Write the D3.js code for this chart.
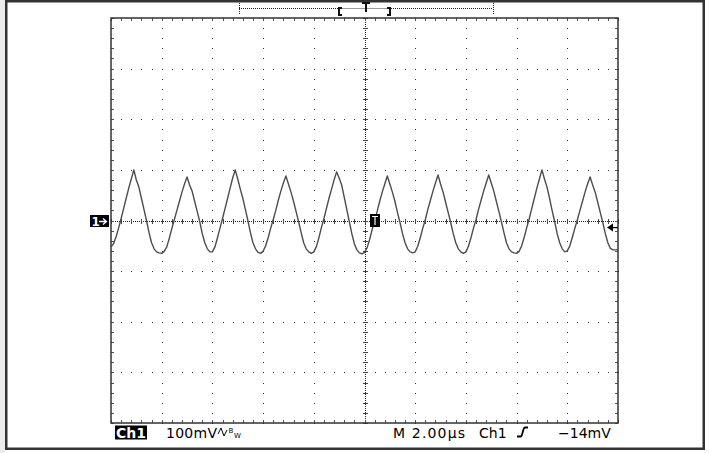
<!DOCTYPE html>
<html>
<head>
<meta charset="utf-8">
<script src="https://cdn.jsdelivr.net/npm/d3@7"></script>
<style>
  html, body { margin: 0; padding: 0; background: #fff; }
  svg { display: block; }
  text { font-family: "DejaVu Sans", sans-serif; }
</style>
</head>
<body>
<svg id="scope" width="709" height="453"></svg>
<script>
// 10 div x 2.00 us, 8 div x 100 mV
const timeDomain = [0, 20];
const voltDomain = [-400, 400];
const sampleStep = 0.1; // us per sample

// Ch1 trace, mV, one sample every 0.1 us
const ch1mV = [
    -52, -46, -32, -15, 4, 24, 44, 64, 82, 100,
    80, 66, 44, 22, 0, -24, -44, -56, -62, -64,
    -65, -61, -52, -35, -16, 2, 20, 38, 56, 72,
    86, 70, 58, 38, 18, -2, -26, -44, -56, -62,
    -62, -52, -34, -15, 4, 24, 44, 64, 84, 100,
    82, 62, 44, 22, 0, -24, -44, -56, -63, -65,
    -61, -50, -34, -15, 2, 20, 40, 58, 74, 88,
    72, 56, 38, 18, -2, -24, -44, -56, -62, -65,
    -62, -52, -34, -14, 4, 24, 44, 62, 80, 96,
    84, 70, 46, 22, -2, -26, -46, -58, -64, -66,
    -63, -54, -38, -18, 0, 18, 38, 56, 72, 88,
    72, 56, 38, 16, -4, -26, -44, -56, -62, -64,
    -62, -51, -34, -15, 2, 22, 40, 58, 74, 90,
    72, 56, 36, 16, -4, -26, -44, -56, -62, -65,
    -62, -51, -34, -15, 2, 22, 40, 58, 74, 90,
    74, 58, 38, 18, -2, -24, -44, -56, -62, -64,
    -65, -61, -50, -33, -14, 4, 24, 44, 64, 82,
    100, 82, 66, 44, 20, -2, -26, -44, -56, -62,
    -60, -50, -33, -15, 2, 20, 38, 56, 72, 86,
    70, 56, 36, 16, -4, -26, -44, -55, -58, -58, -57
];

const triggerLevel = -14;   // mV
const triggerTime = 10.4;   // us
const groundLevel = 0;      // mV

const chLabel = "Ch1";
const voltsLabel = "100mV";
const timeLabel = "M 2.00\u00b5s";
const trigSource = "Ch1";
const trigLabel = "\u221214mV";

const svg = d3.select("#scope");
const W = 709, H = 453;
const pLeft = 111, pRight = 618, pTop = 18, pBottom = 423;

const x = d3.scaleLinear().domain(timeDomain).range([pLeft, pRight]);
const y = d3.scaleLinear().domain(voltDomain).range([pBottom, pTop]);
const px = v => Math.round(v) + 0.5;

// page + outer frame
svg.append("rect").attr("width", W).attr("height", H).attr("fill", "#fff");
svg.append("rect").attr("width", 5).attr("height", H).attr("fill", "#ebebeb");
svg.append("rect")
    .attr("x", 6.25).attr("y", 1.25)
    .attr("width", 697.5).attr("height", 447.5)
    .attr("fill", "#fff")
    .attr("stroke", "#333")
    .attr("stroke-width", 2.5);

const grid = svg.append("g").attr("class", "grid");

const xMajor = d3.range(timeDomain[0], timeDomain[1] + 0.001, 2);
const xMinor = d3.range(timeDomain[0], timeDomain[1] + 0.001, 0.4);
const yMajor = d3.range(voltDomain[0], voltDomain[1] + 0.1, 100);
const yMinor = d3.range(voltDomain[0], voltDomain[1] + 0.1, 20);
const xMid = (timeDomain[0] + timeDomain[1]) / 2;

// dotted graticule lines
const dots = [];
xMajor.filter(t => t !== timeDomain[0] && t !== timeDomain[1] && t !== xMid)
    .forEach(t => yMinor.forEach(v => dots.push([x(t), y(v)])));
yMajor.filter(v => v !== voltDomain[0] && v !== voltDomain[1] && v !== 0)
    .forEach(v => xMinor.forEach(t => dots.push([x(t), y(v)])));

grid.selectAll("rect.dot")
    .data(dots)
    .join("rect")
    .attr("class", "dot")
    .attr("x", d => Math.round(d[0]))
    .attr("y", d => Math.round(d[1]))
    .attr("width", 1)
    .attr("height", 1)
    .attr("fill", "#333");

// center cross, dense dots + ticks
grid.append("line")
    .attr("x1", pLeft).attr("x2", pRight)
    .attr("y1", px(y(0))).attr("y2", px(y(0)))
    .attr("stroke", "#222").attr("stroke-dasharray", "1,1");
grid.append("line")
    .attr("x1", px(x(xMid))).attr("x2", px(x(xMid)))
    .attr("y1", pTop).attr("y2", pBottom)
    .attr("stroke", "#222").attr("stroke-dasharray", "1,1");

grid.selectAll("line.hTick")
    .data(xMinor)
    .join("line")
    .attr("class", "hTick")
    .attr("x1", d => px(x(d))).attr("x2", d => px(x(d)))
    .attr("y1", Math.round(y(0)) - 2).attr("y2", Math.round(y(0)) + 3)
    .attr("stroke", "#444");
grid.selectAll("line.vTick")
    .data(yMinor)
    .join("line")
    .attr("class", "vTick")
    .attr("x1", Math.round(x(xMid)) - 2).attr("x2", Math.round(x(xMid)) + 3)
    .attr("y1", d => px(y(d))).attr("y2", d => px(y(d)))
    .attr("stroke", "#444");

// border ticks
const borderTicks = [
    ...xMinor.map(t => ({ x1: px(x(t)), x2: px(x(t)), y1: pTop, y2: pTop + 3 })),
    ...xMinor.map(t => ({ x1: px(x(t)), x2: px(x(t)), y1: pBottom, y2: pBottom - 3 })),
    ...yMinor.map(v => ({ x1: pLeft, x2: pLeft + 3, y1: px(y(v)), y2: px(y(v)) })),
    ...yMinor.map(v => ({ x1: pRight, x2: pRight - 3, y1: px(y(v)), y2: px(y(v)) }))
];
grid.selectAll("line.bTick")
    .data(borderTicks)
    .join("line")
    .attr("class", "bTick")
    .attr("x1", d => d.x1).attr("x2", d => d.x2)
    .attr("y1", d => d.y1).attr("y2", d => d.y2)
    .attr("stroke", "#555");

grid.append("rect")
    .attr("x", pLeft).attr("y", pTop)
    .attr("width", pRight - pLeft).attr("height", pBottom - pTop)
    .attr("fill", "none")
    .attr("stroke", "#333")
    .attr("stroke-width", 1.5);

// trace
const line = d3.line()
    .x((d, i) => x(i * sampleStep))
    .y(d => y(d));

svg.append("path")
    .datum(ch1mV)
    .attr("d", line)
    .attr("fill", "none")
    .attr("stroke", "#4d4d4d")
    .attr("stroke-width", 1.4)
    .attr("stroke-linejoin", "round");

// ground marker "1->"
const gY = Math.round(y(groundLevel));
const gnd = svg.append("g").attr("transform", `translate(${pLeft - 21},${gY - 6})`);
gnd.append("rect").attr("width", 19).attr("height", 12).attr("fill", "#000");
gnd.append("text").attr("x", 1.5).attr("y", 10.5)
    .attr("fill", "#fff").attr("font-size", 12).attr("font-weight", "bold").text("1");
gnd.append("path").attr("d", "M9,6.5 H16 M13,3.5 L16.5,6.5 L13,9.5")
    .attr("stroke", "#fff").attr("stroke-width", 1.3).attr("fill", "none");

// trigger position marker
const tX = Math.round(x(triggerTime));
const trg = svg.append("g").attr("transform", `translate(${tX - 5},${gY - 7})`);
trg.append("rect").attr("width", 10).attr("height", 13).attr("fill", "#000");
trg.append("path").attr("d", "M2,2.5 H8 M5,2.5 V11")
    .attr("stroke", "#fff").attr("stroke-width", 1.2).attr("fill", "none");

// trigger level arrow
const lY = y(triggerLevel);
svg.append("path")
    .attr("d", `M${pRight},${lY} H${pRight - 6}`)
    .attr("stroke", "#000").attr("stroke-width", 1.3);
svg.append("path")
    .attr("d", `M${pRight - 11},${lY} L${pRight - 5},${lY - 4} L${pRight - 5},${lY + 4} Z`)
    .attr("fill", "#000");

// record length bar
const bar = svg.append("g").attr("class", "record");
bar.append("line").attr("x1", 239).attr("x2", 493).attr("y1", 8.5).attr("y2", 8.5)
    .attr("stroke", "#222").attr("stroke-dasharray", "1,1");
bar.append("line").attr("x1", 338).attr("x2", 391).attr("y1", 8.5).attr("y2", 8.5)
    .attr("stroke", "#999");
[239.5, 493.5].forEach(bx => bar.append("line")
    .attr("x1", bx).attr("x2", bx).attr("y1", 3).attr("y2", 15)
    .attr("stroke", "#222").attr("stroke-dasharray", "1,1"));
bar.append("path").attr("d", "M342,8 H339 V15 H342").attr("stroke", "#111")
    .attr("stroke-width", 2).attr("fill", "none");
bar.append("path").attr("d", "M387,8 H390 V15 H387").attr("stroke", "#111")
    .attr("stroke-width", 2).attr("fill", "none");
bar.append("path").attr("d", "M362,3 H370 M366,3 V12").attr("stroke", "#111")
    .attr("stroke-width", 2).attr("fill", "none");

// readout
const ro = svg.append("g").attr("class", "readout").attr("font-size", 14).attr("fill", "#000");
ro.append("rect").attr("x", 115).attr("y", 425.5).attr("width", 32).attr("height", 14).attr("fill", "#000");
ro.append("text").attr("x", 116).attr("y", 437.5).attr("fill", "#fff")
    .attr("font-weight", "bold").text(chLabel);
ro.append("text").attr("x", 166).attr("y", 437.5).attr("textLength", 51).text(voltsLabel);
// bandwidth limit glyph
ro.append("path").attr("d", "M218,434 L221,428 L224,436 L227,430")
    .attr("stroke", "#000").attr("stroke-width", 1).attr("fill", "none");
ro.append("text").attr("x", 228.5).attr("y", 432.5).attr("font-size", 7).text("B");
ro.append("text").attr("x", 234).attr("y", 438).attr("font-size", 7).text("W");
ro.append("text").attr("x", 393).attr("y", 437.5).attr("textLength", 72).text(timeLabel);
ro.append("text").attr("x", 479).attr("y", 437.5).text(trigSource);
// rising slope glyph
ro.append("path").attr("d", "M517,436.5 H520.5 C523,436.5 522.5,427.5 525,427.5 H528")
    .attr("stroke", "#000").attr("stroke-width", 1.8).attr("fill", "none");
ro.append("text").attr("x", 558).attr("y", 437.5).text(trigLabel);
</script>
</body>
</html>
